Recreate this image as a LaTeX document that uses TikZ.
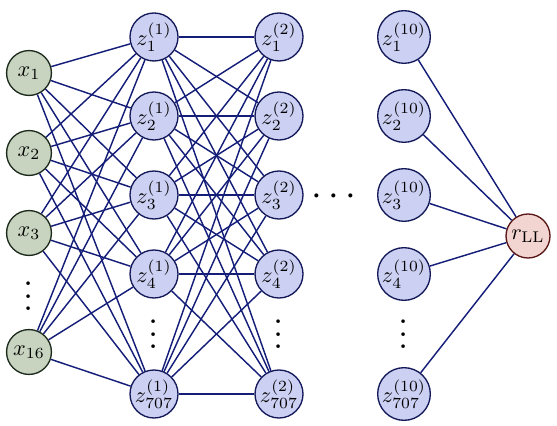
\documentclass[tikz,border=0pt]{standalone}
\usepackage{amssymb,amsmath}
\usepackage{xcolor}
\usepackage{tikz}

\definecolor{inpfill}{RGB}{200,212,192}
\definecolor{inpdraw}{RGB}{28,42,28}
\definecolor{hidfill}{RGB}{204,208,242}
\definecolor{hiddraw}{RGB}{18,24,88}
\definecolor{outfill}{RGB}{242,212,208}
\definecolor{outdraw}{RGB}{88,22,22}
\definecolor{linkcol}{RGB}{20,30,120}

\begin{document}
\begin{tikzpicture}[x=0.45pt,y=0.45pt,yscale=-1,xscale=1,
  inpnode/.style={circle,draw=inpdraw,fill=inpfill,line width=0.6pt,minimum size=20.2pt,inner sep=0pt},
  hidnode/.style={circle,draw=hiddraw,fill=hidfill,line width=0.6pt,minimum size=21.6pt,inner sep=0pt},
  outnode/.style={circle,draw=outdraw,fill=outfill,line width=0.6pt,minimum size=19.8pt,inner sep=0pt},
  link/.style={draw=linkcol,line width=0.65pt},
  vdotnode/.style={scale=1.4,inner sep=0pt}]
\useasboundingbox (0,0) rectangle (557,426);

% Input layer
\foreach \k/\yy/\lab in {1/73/1,2/153/2,3/233/3,4/352/16}{
  \node[inpnode] (x\k) at (29,\yy) {$x_{\lab}$};
}
% Hidden layers
\foreach \lay/\xx in {1/154,2/279,10/404}{
  \foreach \k/\yy/\lab in {1/37/1,2/116/2,3/195/3,4/274/4,5/394/707}{
    \node[hidnode] (z\lay-\k) at (\xx,\yy) {$z^{(\lay)}_{\lab}$};
  }
}
% Output
\node[outnode] (r) at (528,236) {$r_{\mathrm{LL}}$};

% Dots
\node[vdotnode] (vdx) at (29,287) {\large$\vdots$};
\node[vdotnode] (vd1) at (154,325) {\large$\vdots$};
\node[vdotnode] (vd2) at (279,325) {\large$\vdots$};
\node[vdotnode] (vd10) at (404,325) {\large$\vdots$};
\node (hd) at (337,197) {\LARGE$\cdots$};

% Links
\foreach \i in {1,...,4}{
  \foreach \j in {1,...,5}{
    \draw[link] (x\i) -- (z1-\j);
  }
}
\foreach \i in {1,...,5}{
  \foreach \j in {1,...,5}{
    \draw[link] (z1-\i) -- (z2-\j);
  }
}
\foreach \i in {1,...,5}{
  \draw[link] (z10-\i) -- (r);
}

\end{tikzpicture}
\end{document}
